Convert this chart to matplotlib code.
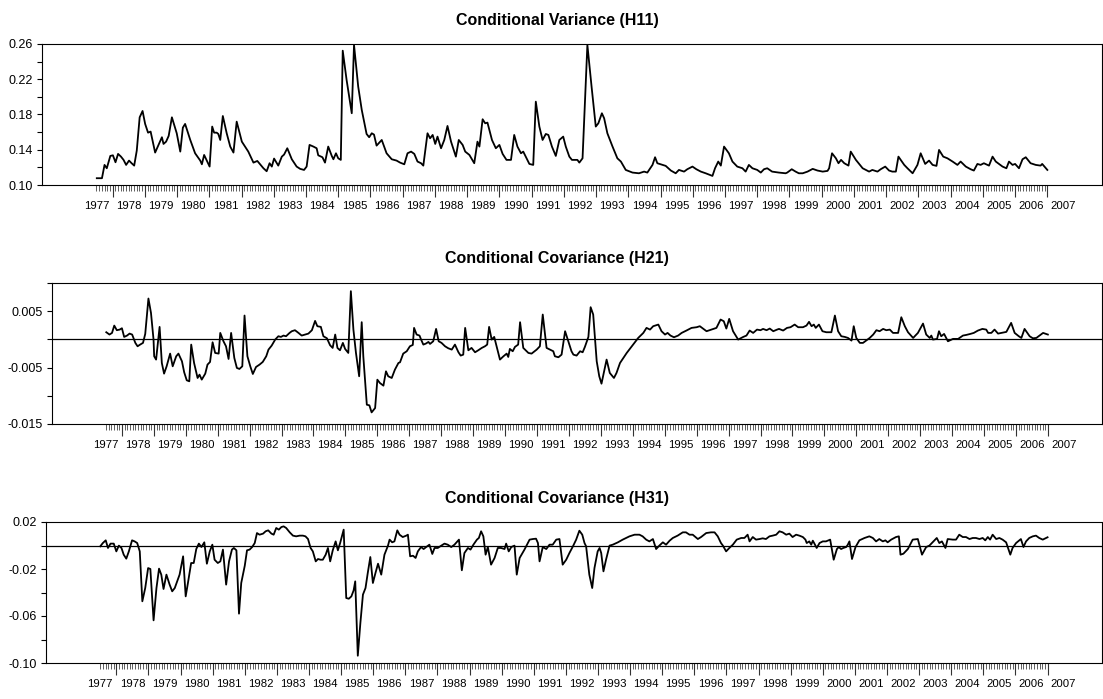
import matplotlib
matplotlib.use('Agg')
import matplotlib.pyplot as plt
import numpy as np
from matplotlib import font_manager
from matplotlib.transforms import blended_transform_factory, ScaledTranslation

# ---- data (decimal year, value) ----
h11_t = [
    1977.51, 1977.67, 1977.75, 1977.82, 1977.93, 1978.01, 1978.09, 1978.17, 1978.26, 1978.34,
    1978.42, 1978.51, 1978.59, 1978.67, 1978.75, 1978.84, 1978.93, 1979.01, 1979.10, 1979.18,
    1979.32, 1979.53, 1979.58, 1979.66, 1979.74, 1979.84, 1979.99, 1980.10, 1980.18, 1980.25,
    1980.41, 1980.56, 1980.72, 1980.77, 1980.84, 1981.01, 1981.09, 1981.15, 1981.23, 1981.28,
    1981.34, 1981.42, 1981.54, 1981.65, 1981.75, 1981.85, 1982.01, 1982.21, 1982.37, 1982.49,
    1982.68, 1982.78, 1982.87, 1982.94, 1983.01, 1983.14, 1983.25, 1983.32, 1983.42, 1983.56,
    1983.71, 1983.82, 1983.94, 1984.02, 1984.11, 1984.23, 1984.33, 1984.38, 1984.51, 1984.59,
    1984.69, 1984.80, 1984.85, 1984.93, 1985.00, 1985.08, 1985.14, 1985.26, 1985.42, 1985.49,
    1985.62, 1985.73, 1985.88, 1985.96, 1986.04, 1986.11, 1986.19, 1986.35, 1986.50, 1986.66,
    1986.81, 1986.92,
    1987.05, 1987.15, 1987.26, 1987.36, 1987.46, 1987.57, 1987.64, 1987.77, 1987.85, 1987.93,
    1988.01, 1988.08, 1988.19, 1988.29, 1988.39, 1988.50, 1988.65, 1988.74, 1988.86, 1988.94,
    1989.07, 1989.22, 1989.32, 1989.38, 1989.48, 1989.56, 1989.63, 1989.77, 1989.89, 1990.00,
    1990.10, 1990.22, 1990.36, 1990.46, 1990.56, 1990.67, 1990.74, 1990.93, 1991.05, 1991.13,
    1991.24, 1991.34, 1991.44, 1991.52, 1991.63, 1991.75, 1991.86, 1991.98, 1992.06, 1992.17,
    1992.25, 1992.42, 1992.48, 1992.58, 1992.73, 1992.86, 1992.99, 1993.07, 1993.18, 1993.25,
    1993.35, 1993.51, 1993.66, 1993.77, 1993.92, 1994.13, 1994.33, 1994.49, 1994.59, 1994.75,
    1994.83, 1994.90, 1995.06, 1995.16, 1995.32, 1995.47, 1995.57, 1995.73, 1995.83, 1995.99,
    1996.11, 1996.25, 1996.40, 1996.61, 1996.69, 1996.79, 1996.87, 1996.97, 1997.12, 1997.23,
    1997.38, 1997.54, 1997.64, 1997.74, 1997.85, 1998.00, 1998.11, 1998.21, 1998.31, 1998.46,
    1998.67, 1998.88, 1998.93, 1999.07, 1999.19, 1999.29,
    1999.41, 1999.56, 1999.72, 1999.87, 2000.03, 2000.18, 2000.23, 2000.32, 2000.44, 2000.52,
    2000.60, 2000.70, 2000.83, 2000.90, 2001.06, 2001.27, 2001.47, 2001.57, 2001.73, 2001.83,
    2001.97, 2002.09, 2002.19, 2002.30, 2002.38, 2002.56, 2002.66, 2002.82, 2002.97, 2003.07,
    2003.21, 2003.33, 2003.44, 2003.56, 2003.64, 2003.77, 2003.90, 2004.06, 2004.21, 2004.31,
    2004.47, 2004.62, 2004.72, 2004.83, 2004.93, 2005.03, 2005.19, 2005.30, 2005.40, 2005.61,
    2005.73, 2005.81, 2005.92, 2006.00, 2006.12, 2006.23, 2006.33, 2006.48, 2006.64, 2006.79,
    2006.84, 2007.00,
]
h11_v = [
    0.1077, 0.1077, 0.1228, 0.1190, 0.1330, 0.1337, 0.1258, 0.1353, 0.1322, 0.1285,
    0.1228, 0.1277, 0.1247, 0.1220, 0.1390, 0.1768, 0.1840, 0.1693, 0.1594, 0.1606,
    0.1368, 0.1542, 0.1466, 0.1492, 0.1557, 0.1768, 0.1587, 0.1379, 0.1651, 0.1693,
    0.1511, 0.1360, 0.1277, 0.1235, 0.1341, 0.1209, 0.1663, 0.1594, 0.1594, 0.1579,
    0.1511, 0.1783, 0.1587, 0.1436, 0.1368, 0.1719, 0.1492, 0.1379, 0.1254, 0.1273,
    0.1190, 0.1156, 0.1247, 0.1209, 0.1300, 0.1220, 0.1322, 0.1345, 0.1417, 0.1292,
    0.1209, 0.1183, 0.1171, 0.1209, 0.1455, 0.1436, 0.1417, 0.1337, 0.1315, 0.1254,
    0.1436, 0.1330, 0.1292, 0.1360, 0.1303, 0.1285, 0.2524, 0.2192, 0.1814, 0.2589,
    0.2116, 0.1852, 0.1579, 0.1542, 0.1587, 0.1572, 0.1447, 0.1511, 0.1360, 0.1292,
    0.1277, 0.1254,
    0.1235, 0.1360, 0.1379, 0.1353, 0.1266, 0.1247, 0.1220, 0.1587, 0.1530, 0.1568,
    0.1466, 0.1549, 0.1417, 0.1511, 0.1670, 0.1492, 0.1322, 0.1511, 0.1455, 0.1379,
    0.1341, 0.1247, 0.1492, 0.1436, 0.1746, 0.1700, 0.1708, 0.1511, 0.1417, 0.1455,
    0.1353, 0.1285, 0.1285, 0.1568, 0.1436, 0.1360, 0.1379, 0.1239, 0.1228, 0.1946,
    0.1663, 0.1511, 0.1579, 0.1568, 0.1436, 0.1330, 0.1511, 0.1549, 0.1436, 0.1322,
    0.1285, 0.1285, 0.1254, 0.1303, 0.2589, 0.2116, 0.1663, 0.1700, 0.1814, 0.1757,
    0.1587, 0.1436, 0.1303, 0.1266, 0.1171, 0.1141, 0.1133, 0.1152, 0.1141, 0.1228,
    0.1315, 0.1247, 0.1228, 0.1217, 0.1164, 0.1133, 0.1171, 0.1152, 0.1179, 0.1209,
    0.1179, 0.1152, 0.1133, 0.1103, 0.1190, 0.1266, 0.1220, 0.1436, 0.1360, 0.1266,
    0.1209, 0.1190, 0.1152, 0.1228, 0.1190, 0.1171, 0.1141, 0.1179, 0.1190, 0.1152,
    0.1141, 0.1133, 0.1141, 0.1179, 0.1152, 0.1133,
    0.1133, 0.1152, 0.1183, 0.1164, 0.1152, 0.1160, 0.1190, 0.1360, 0.1303, 0.1247,
    0.1285, 0.1247, 0.1220, 0.1379, 0.1285, 0.1190, 0.1152, 0.1171, 0.1152, 0.1179,
    0.1209, 0.1164, 0.1152, 0.1152, 0.1322, 0.1228, 0.1190, 0.1133, 0.1228, 0.1360,
    0.1239, 0.1277, 0.1228, 0.1217, 0.1398, 0.1322, 0.1303, 0.1266, 0.1228, 0.1266,
    0.1209, 0.1179, 0.1164, 0.1239, 0.1228, 0.1247, 0.1220, 0.1322, 0.1266, 0.1209,
    0.1190, 0.1266, 0.1228, 0.1239, 0.1190, 0.1292, 0.1315, 0.1247, 0.1228, 0.1220,
    0.1239, 0.1171,
]

h21_t = [
    1977.51, 1977.61, 1977.69, 1977.76, 1977.84, 1977.93, 1978.00, 1978.07, 1978.16, 1978.24,
    1978.32, 1978.42, 1978.49, 1978.57, 1978.66, 1978.73, 1978.83, 1978.91, 1978.99, 1979.01,
    1979.07, 1979.18, 1979.25, 1979.32, 1979.40, 1979.51, 1979.59, 1979.70, 1979.77, 1979.88,
    1979.95, 1980.03, 1980.11, 1980.17, 1980.26, 1980.37, 1980.43, 1980.50, 1980.61, 1980.68,
    1980.76, 1980.84, 1980.92, 1981.03, 1981.08, 1981.18, 1981.26, 1981.34, 1981.42, 1981.52,
    1981.60, 1981.68, 1981.77, 1981.84, 1981.93, 1982.02, 1982.10, 1982.20, 1982.31, 1982.41,
    1982.52, 1982.59, 1982.69, 1982.80, 1982.90, 1982.98, 1983.06, 1983.14, 1983.25, 1983.32,
    1983.42, 1983.53, 1983.63, 1983.74, 1983.84, 1983.95, 1984.05, 1984.12, 1984.23, 1984.31,
    1984.42, 1984.52, 1984.60, 1984.68, 1984.75, 1984.83, 1984.92, 1984.99, 1985.09, 1985.17,
    1985.25, 1985.33, 1985.43, 1985.51, 1985.56, 1985.67, 1985.75, 1985.82, 1985.93, 1986.00,
    1986.08, 1986.19, 1986.27, 1986.34, 1986.45, 1986.55, 1986.66, 1986.71,
    1986.81, 1986.92, 1987.02, 1987.11, 1987.15, 1987.23, 1987.32, 1987.37, 1987.44, 1987.52,
    1987.60, 1987.65, 1987.75, 1987.84, 1987.92, 1988.01, 1988.12, 1988.22, 1988.33, 1988.43,
    1988.54, 1988.61, 1988.69, 1988.75, 1988.85, 1988.95, 1989.06, 1989.16, 1989.27, 1989.37,
    1989.44, 1989.50, 1989.58, 1989.66, 1989.84, 1989.95, 1990.05, 1990.10, 1990.15, 1990.24,
    1990.31, 1990.41, 1990.47, 1990.57, 1990.73, 1990.83, 1990.99, 1991.09, 1991.18, 1991.30,
    1991.41, 1991.51, 1991.56, 1991.67, 1991.77, 1991.88, 1991.98, 1992.08, 1992.14, 1992.24,
    1992.35, 1992.43, 1992.50, 1992.61, 1992.68, 1992.76, 1992.87, 1992.95, 1993.02, 1993.09,
    1993.18, 1993.28, 1993.41, 1993.49, 1993.60, 1993.81, 1994.01, 1994.17, 1994.33, 1994.43,
    1994.54, 1994.64, 1994.80, 1994.90, 1995.01, 1995.09, 1995.18, 1995.29, 1995.42, 1995.53,
    1995.68, 1995.84, 1996.00, 1996.10,
    1996.31, 1996.62, 1996.75, 1996.85, 1996.93, 1997.02, 1997.14, 1997.30, 1997.46, 1997.56,
    1997.66, 1997.77, 1997.89, 1998.00, 1998.08, 1998.19, 1998.29, 1998.40, 1998.52, 1998.58,
    1998.71, 1998.83, 1998.94, 1999.07, 1999.18, 1999.33, 1999.44, 1999.52, 1999.60, 1999.67,
    1999.73, 1999.83, 1999.94, 2000.06, 2000.22, 2000.33, 2000.43, 2000.53, 2000.64, 2000.74,
    2000.85, 2000.92, 2001.00, 2001.11, 2001.21, 2001.42, 2001.53, 2001.63, 2001.73, 2001.84,
    2001.94, 2002.05, 2002.15, 2002.31, 2002.41, 2002.52, 2002.62, 2002.78, 2002.93, 2003.09,
    2003.19, 2003.30, 2003.35, 2003.40, 2003.53, 2003.59, 2003.66, 2003.75, 2003.87, 2004.03,
    2004.19, 2004.34, 2004.45, 2004.57, 2004.68, 2004.81, 2004.95, 2005.07, 2005.13, 2005.23,
    2005.33, 2005.44, 2005.54, 2005.70, 2005.85, 2005.96, 2006.09, 2006.17, 2006.27, 2006.43,
    2006.53, 2006.64, 2006.74, 2006.85, 2007.00,
]
h21_v = [
    0.00127, 0.00086, 0.00115, 0.00245, 0.00163, 0.00174, 0.00198, 0.00044, 0.00068, 0.00103,
    0.00086, -0.00062, -0.00122, -0.00092, -0.00062, 0.00097, 0.00725, 0.00470, -0.00003, -0.00299,
    -0.00358, 0.00222, -0.00418, -0.00607, -0.00477, -0.00252, -0.00477, -0.00299, -0.00252, -0.00388,
    -0.00583, -0.00725, -0.00743, -0.00092, -0.00418, -0.00684, -0.00625, -0.00713, -0.00607, -0.00447,
    -0.00400, -0.00051, -0.00240, -0.00252, 0.00115, -0.00033, -0.00122, -0.00347, 0.00115, -0.00329,
    -0.00506, -0.00524, -0.00477, 0.00423, -0.00299, -0.00477, -0.00613, -0.00489, -0.00447, -0.00400,
    -0.00299, -0.00181, -0.00110, -0.00003, 0.00056, 0.00044, 0.00068, 0.00056, 0.00115, 0.00145,
    0.00163, 0.00115, 0.00068, 0.00086, 0.00103, 0.00163, 0.00328, 0.00234, 0.00222, 0.00056,
    0.00020, -0.00104, -0.00151, 0.00086, -0.00151, -0.00193, -0.00062, -0.00169, -0.00240, 0.00855,
    0.00174, -0.00240, -0.00654, 0.00305, -0.00299, -0.01158, -0.01169, -0.01294, -0.01217, -0.00714,
    -0.00773, -0.00820, -0.00566, -0.00654, -0.00684, -0.00536, -0.00418, -0.00406,
    -0.00252, -0.00210, -0.00122, -0.00098, 0.00204, 0.00086, 0.00068, -0.00003, -0.00092, -0.00074,
    -0.00045, -0.00080, -0.00033, 0.00186, -0.00033, -0.00062, -0.00122, -0.00157, -0.00181, -0.00092,
    -0.00228, -0.00287, -0.00270, 0.00204, -0.00193, -0.00151, -0.00228, -0.00193, -0.00151, -0.00122,
    -0.00092, 0.00222, -0.00003, 0.00044, -0.00358, -0.00299, -0.00252, -0.00311, -0.00169, -0.00210,
    -0.00133, -0.00092, 0.00305, -0.00151, -0.00240, -0.00252, -0.00181, -0.00122, 0.00441, -0.00151,
    -0.00181, -0.00210, -0.00299, -0.00317, -0.00270, 0.00145, -0.00033, -0.00210, -0.00270, -0.00287,
    -0.00210, -0.00228, -0.00133, 0.00044, 0.00571, 0.00441, -0.00388, -0.00654, -0.00785, -0.00595,
    -0.00358, -0.00595, -0.00684, -0.00595, -0.00418, -0.00240, -0.00092, 0.00026, 0.00115, 0.00204,
    0.00174, 0.00234, 0.00263, 0.00145, 0.00086, 0.00115, 0.00068, 0.00038, 0.00068, 0.00115,
    0.00157, 0.00204, 0.00216, 0.00234,
    0.00145, 0.00204, 0.00352, 0.00322, 0.00192, 0.00364, 0.00145, -0.00003, 0.00044, 0.00068,
    0.00157, 0.00115, 0.00174, 0.00163, 0.00186, 0.00163, 0.00192, 0.00145, 0.00174, 0.00186,
    0.00157, 0.00204, 0.00216, 0.00263, 0.00216, 0.00216, 0.00245, 0.00311, 0.00234, 0.00263,
    0.00204, 0.00263, 0.00145, 0.00127, 0.00127, 0.00423, 0.00145, 0.00056, 0.00044, 0.00026,
    -0.00021, 0.00234, 0.00026, -0.00062, -0.00062, 0.00026, 0.00086, 0.00163, 0.00145, 0.00186,
    0.00163, 0.00174, 0.00115, 0.00115, 0.00393, 0.00234, 0.00127, 0.00026, 0.00115, 0.00281,
    0.00086, 0.00026, 0.00068, -0.00003, 0.00009, 0.00145, 0.00056, 0.00097, -0.00033, 0.00009,
    0.00009, 0.00068, 0.00080, 0.00097, 0.00115, 0.00157, 0.00186, 0.00174, 0.00115, 0.00115,
    0.00174, 0.00103, 0.00115, 0.00133, 0.00293, 0.00115, 0.00056, 0.00026, 0.00186, 0.00056,
    0.00020, 0.00026, 0.00068, 0.00115, 0.00086,
]

h31_t = [
    1977.50, 1977.58, 1977.67, 1977.74, 1977.82, 1977.92, 1978.00, 1978.08, 1978.16, 1978.23,
    1978.31, 1978.39, 1978.49, 1978.57, 1978.65, 1978.73, 1978.81, 1978.90, 1978.99, 1979.06,
    1979.16, 1979.25, 1979.33, 1979.40, 1979.47, 1979.56, 1979.66, 1979.74, 1979.82, 1979.97,
    1980.08, 1980.16, 1980.23, 1980.33, 1980.41, 1980.49, 1980.57, 1980.65, 1980.74, 1980.82,
    1980.91, 1980.99, 1981.06, 1981.16, 1981.24, 1981.32, 1981.42, 1981.51, 1981.60, 1981.66,
    1981.74, 1981.82, 1981.89, 1982.00, 1982.07, 1982.15, 1982.23, 1982.31, 1982.38, 1982.46,
    1982.57, 1982.65, 1982.73, 1982.83, 1982.90, 1982.98, 1983.06, 1983.14, 1983.21, 1983.29,
    1983.40, 1983.50, 1983.60, 1983.71, 1983.81, 1983.89, 1983.97, 1984.05, 1984.12, 1984.21,
    1984.28, 1984.36, 1984.43, 1984.52, 1984.59, 1984.66, 1984.74, 1984.83, 1984.90, 1984.97,
    1985.08, 1985.16, 1985.24, 1985.32, 1985.39, 1985.44, 1985.52, 1985.60, 1985.68, 1985.76,
    1985.83, 1985.91, 1985.99, 1986.07, 1986.15, 1986.25, 1986.35, 1986.46, 1986.51, 1986.59,
    1986.66, 1986.75, 1986.82,
    1986.92, 1987.03, 1987.08, 1987.15, 1987.24, 1987.32, 1987.39, 1987.49, 1987.57, 1987.65,
    1987.75, 1987.84, 1987.91, 1988.01, 1988.12, 1988.22, 1988.32, 1988.43, 1988.53, 1988.67,
    1988.76, 1988.84, 1988.95, 1989.03, 1989.12, 1989.23, 1989.29, 1989.36, 1989.43, 1989.50,
    1989.57, 1989.67, 1989.78, 1989.88, 1989.98, 1990.09, 1990.14, 1990.22, 1990.30, 1990.40,
    1990.47, 1990.56, 1990.71, 1990.87, 1990.97, 1991.07, 1991.13, 1991.18, 1991.28, 1991.39,
    1991.49, 1991.59, 1991.70, 1991.80, 1991.90, 1992.01, 1992.11, 1992.22, 1992.32, 1992.42,
    1992.51, 1992.58, 1992.63, 1992.73, 1992.82, 1992.89, 1992.99, 1993.05, 1993.10, 1993.17,
    1993.25, 1993.36, 1993.46, 1993.62, 1993.77, 1993.98, 1994.14, 1994.29, 1994.39, 1994.50,
    1994.60, 1994.71, 1994.81, 1994.91, 1995.02, 1995.12, 1995.23, 1995.33, 1995.48, 1995.64,
    1995.74, 1995.85, 1995.95, 1996.11, 1996.21, 1996.37, 1996.52, 1996.63, 1996.73, 1996.83,
    1996.89, 1996.99, 1997.09, 1997.20, 1997.32, 1997.46, 1997.56, 1997.66, 1997.72, 1997.82,
    1997.92, 1998.03, 1998.13, 1998.23, 1998.34, 1998.44, 1998.55, 1998.65, 1998.75, 1998.86,
    1998.96, 1999.06, 1999.17, 1999.27,
    1999.38, 1999.46, 1999.50, 1999.58, 1999.64, 1999.69, 1999.74, 1999.81, 1999.90, 2000.00,
    2000.10, 2000.23, 2000.34, 2000.44, 2000.50, 2000.57, 2000.64, 2000.73, 2000.78, 2000.83,
    2000.91, 2001.02, 2001.14, 2001.30, 2001.45, 2001.56, 2001.66, 2001.76, 2001.87, 2001.95,
    2002.02, 2002.13, 2002.28, 2002.37, 2002.42, 2002.51, 2002.65, 2002.80, 2002.96, 2003.09,
    2003.22, 2003.32, 2003.42, 2003.55, 2003.63, 2003.71, 2003.82, 2003.89, 2004.05, 2004.15,
    2004.25, 2004.36, 2004.46, 2004.57, 2004.67, 2004.77, 2004.88, 2004.98, 2005.06, 2005.14,
    2005.21, 2005.29, 2005.40, 2005.50, 2005.60, 2005.71, 2005.76, 2005.84, 2005.91, 2006.02,
    2006.17, 2006.25, 2006.33, 2006.43, 2006.54, 2006.64, 2006.74, 2006.85, 2006.95, 2007.00,
]
h31_v = [
    -0.0007, 0.0021, 0.0044, -0.0021, 0.0016, 0.0016, -0.0050, -0.0001, -0.0021, -0.0078,
    -0.0112, -0.0050, 0.0044, 0.0035, 0.0021, -0.0050, -0.0475, -0.0362, -0.0192, -0.0200,
    -0.0637, -0.0362, -0.0197, -0.0248, -0.0370, -0.0248, -0.0333, -0.0390, -0.0362, -0.0248,
    -0.0092, -0.0433, -0.0319, -0.0149, -0.0149, -0.0030, 0.0016, -0.0013, 0.0027, -0.0155,
    -0.0050, 0.0007, -0.0121, -0.0149, -0.0135, -0.0035, -0.0333, -0.0135, -0.0035, -0.0021,
    -0.0041, -0.0580, -0.0319, -0.0172, -0.0041, -0.0035, -0.0013, 0.0021, 0.0106, 0.0092,
    0.0101, 0.0121, 0.0129, 0.0101, 0.0092, 0.0149, 0.0135, 0.0157, 0.0163, 0.0149,
    0.0112, 0.0084, 0.0078, 0.0084, 0.0084, 0.0078, 0.0055, -0.0021, -0.0050, -0.0135,
    -0.0115, -0.0121, -0.0121, -0.0078, -0.0021, -0.0135, -0.0041, 0.0035, -0.0041, 0.0021,
    0.0135, -0.0447, -0.0453, -0.0433, -0.0382, -0.0305, -0.0938, -0.0660, -0.0418, -0.0362,
    -0.0234, -0.0098, -0.0319, -0.0234, -0.0155, -0.0248, -0.0078, -0.0001, 0.0050, 0.0027,
    0.0035, 0.0129, 0.0092,
    0.0072, 0.0084, 0.0092, -0.0092, -0.0087, -0.0106, -0.0050, -0.0013, -0.0030, -0.0013,
    0.0007, -0.0072, -0.0021, -0.0021, -0.0001, 0.0016, 0.0007, -0.0013, 0.0007, 0.0050,
    -0.0211, -0.0064, -0.0021, -0.0035, 0.0007, 0.0050, 0.0064, 0.0121, 0.0078, -0.0078,
    -0.0013, -0.0163, -0.0106, -0.0021, -0.0021, -0.0030, 0.0016, -0.0050, -0.0013, -0.0001,
    -0.0248, -0.0106, -0.0035, 0.0050, 0.0055, 0.0058, 0.0021, -0.0135, -0.0013, -0.0030,
    0.0007, 0.0007, 0.0050, 0.0055, -0.0163, -0.0121, -0.0064, -0.0007, 0.0050, 0.0126,
    0.0092, 0.0021, -0.0007, -0.0248, -0.0362, -0.0192, -0.0050, -0.0021, -0.0064, -0.0220,
    -0.0121, -0.0001, 0.0007, 0.0027, 0.0050, 0.0078, 0.0092, 0.0092, 0.0078, 0.0050,
    0.0035, 0.0055, -0.0030, -0.0001, 0.0027, 0.0007, 0.0041, 0.0064, 0.0084, 0.0112,
    0.0112, 0.0092, 0.0092, 0.0055, 0.0072, 0.0106, 0.0112, 0.0112, 0.0078, 0.0021,
    -0.0001, -0.0050, -0.0021, 0.0007, 0.0050, 0.0064, 0.0064, 0.0092, 0.0035, 0.0072,
    0.0050, 0.0055, 0.0061, 0.0055, 0.0078, 0.0084, 0.0092, 0.0121, 0.0112, 0.0092,
    0.0101, 0.0072, 0.0092, 0.0084,
    0.0072, 0.0050, 0.0021, 0.0035, 0.0007, 0.0041, 0.0016, -0.0021, 0.0021, 0.0035,
    0.0035, 0.0050, -0.0121, -0.0030, -0.0013, -0.0030, -0.0021, -0.0013, 0.0007, 0.0035,
    -0.0115, -0.0013, 0.0044, 0.0064, 0.0078, 0.0064, 0.0035, 0.0055, 0.0035, 0.0044,
    0.0027, 0.0050, 0.0072, 0.0078, -0.0078, -0.0070, -0.0030, 0.0050, 0.0055, -0.0078,
    -0.0013, -0.0001, 0.0027, 0.0064, 0.0021, 0.0035, -0.0021, 0.0055, 0.0050, 0.0050,
    0.0092, 0.0072, 0.0072, 0.0055, 0.0064, 0.0064, 0.0055, 0.0064, 0.0044, 0.0072,
    0.0050, 0.0092, 0.0055, 0.0064, 0.0050, 0.0027, -0.0013, -0.0078, -0.0021, 0.0021,
    0.0055, -0.0013, 0.0035, 0.0064, 0.0078, 0.0084, 0.0064, 0.0050, 0.0064, 0.0070,
]

titles = ['Conditional Variance (H11)', 'Conditional Covariance (H21)', 'Conditional Covariance (H31)']
year_labels = list(range(1977, 2008))

# ---- fonts ----
names = {f.name for f in font_manager.fontManager.ttflist}
main_font = 'Liberation Sans Narrow' if 'Liberation Sans Narrow' in names else 'Liberation Sans'
plt.rcParams['font.family'] = [main_font, 'DejaVu Sans']

W, H = 1103, 699
fig = plt.figure(figsize=(W / 100, H / 100), dpi=100)

panels = [
    dict(t=h11_t, v=h11_v, box=(42, 44, 1101.5, 185), ylim=(0.10, 0.26),
         yticks=np.arange(0.10, 0.2601, 0.02),
         ylabels=['0.10', '', '0.14', '', '0.18', '', '0.22', '', '0.26'], zero=False, ty=20),
    dict(t=h21_t, v=h21_v, box=(52, 283, 1101.5, 424), ylim=(-0.015, 0.010),
         yticks=np.arange(-0.015, 0.0101, 0.005),
         ylabels=['-0.015', '', '-0.005', '', '0.005', ''], zero=True, ty=259),
    dict(t=h31_t, v=h31_v, box=(46, 522, 1101.5, 663), ylim=(-0.10, 0.02),
         yticks=np.arange(-0.10, 0.0201, 0.02),
         ylabels=['-0.10', '', '-0.06', '', '-0.02', '', '0.02'], zero=True, ty=499),
]

for p, title in zip(panels, titles):
    l, t, r, b = p['box']
    ax = fig.add_axes([l / W, 1 - b / H, (r - l) / W, (b - t) / H])
    ax.plot(p['t'], p['v'], color='black', lw=1.3)
    if p['zero']:
        ax.axhline(0, color='black', lw=0.9)
    ax.set_xlim(1975.81, 2008.68)
    ax.set_ylim(*p['ylim'])
    ax.set_yticks(p['yticks'], p['ylabels'])
    ax.set_xticks(np.arange(1978, 2008))
    ax.set_xticklabels([])
    ax.set_xticks(np.arange(1977.5, 2007.001, 1 / 12), minor=True)
    ax.tick_params(axis='x', which='major', length=8.5, width=0.8, color='#333333')
    ax.tick_params(axis='x', which='minor', length=4.3, width=0.6, color='#444444')
    ax.tick_params(axis='y', length=3.6, width=0.8, pad=2.8, labelsize=9)
    for s in ax.spines.values():
        s.set_linewidth(0.8)
    trans = blended_transform_factory(ax.transData, ax.transAxes) + \
        ScaledTranslation(0, -0.21, fig.dpi_scale_trans)
    for y in year_labels:
        ax.text(y + 0.5, 0, str(y), transform=trans, ha='center', va='center', fontsize=8.2)
    fig.text(557 / W, 1 - p['ty'] / H, title, ha='center', va='center',
             fontsize=11.5, fontweight='bold')

fig.savefig('out.png', dpi=100)
